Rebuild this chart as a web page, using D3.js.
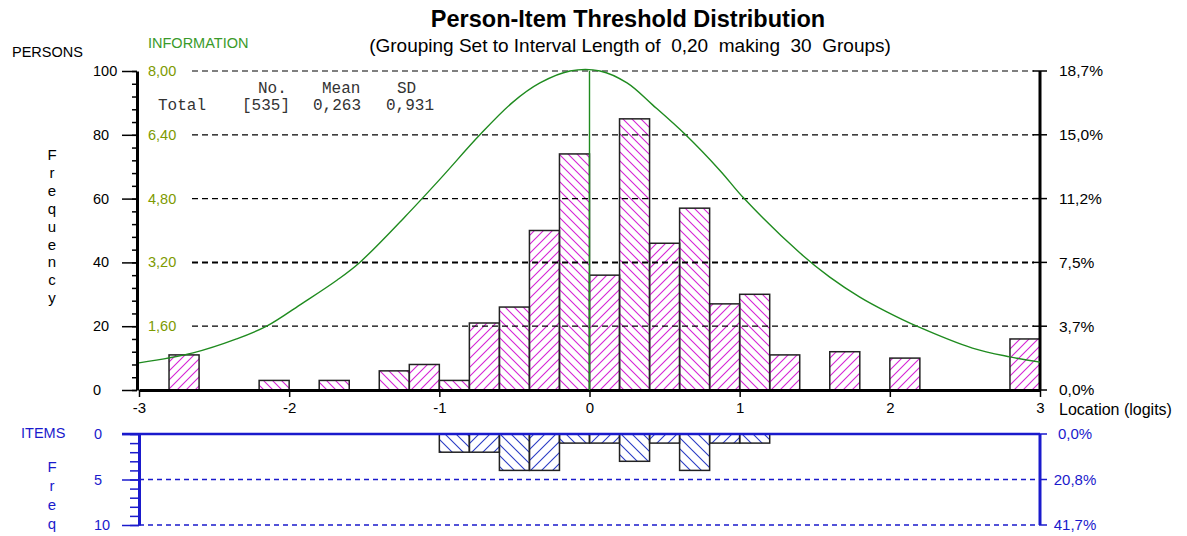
<!DOCTYPE html>
<html>
<head>
<meta charset="utf-8">
<script src="https://cdn.jsdelivr.net/npm/d3@7"></script>
<style>
  body { margin: 0; background: #fff; }
  text { font-family: "Liberation Sans", Arial, sans-serif; }
</style>
</head>
<body>
<div id="chart"></div>
<script>
// lower edge of each of the 30 groups (interval length 0,20)
var binStart = [-3.0, -2.8, -2.6, -2.4, -2.2, -2.0, -1.8, -1.6, -1.4, -1.2,
                -1.0, -0.8, -0.6, -0.4, -0.2, 0.0, 0.2, 0.4, 0.6, 0.8,
                1.0, 1.2, 1.4, 1.6, 1.8, 2.0, 2.2, 2.4, 2.6, 2.8];
var binWidth = 0.2;

// persons per group
var personCounts = [0, 11, 0, 0, 3, 0, 3, 0, 6, 8,
                    3, 21, 26, 50, 74, 36, 85, 46, 57, 27,
                    30, 11, 0, 12, 0, 10, 0, 0, 0, 16];
// item thresholds per group
var itemCounts = [0, 0, 0, 0, 0, 0, 0, 0, 0, 0,
                  2, 2, 4, 4, 1, 1, 3, 1, 4, 1,
                  1, 0, 0, 0, 0, 0, 0, 0, 0, 0];

// test information curve
var infoX = [-3.0, -2.64, -2.35, -2.15, -1.91, -1.68, -1.53, -1.23, -1.0,
             -0.73, -0.51, -0.33, -0.13, 0.07, 0.25, 0.42, 0.64, 0.87, 1.03,
             1.40, 1.60, 1.80, 1.98, 2.18, 2.55, 2.80, 3.0];
var infoY = [0.68, 0.93, 1.28, 1.60, 2.18, 2.76, 3.20, 4.34, 5.27,
             6.40, 7.22, 7.70, 8.0, 8.0, 7.70, 7.15, 6.40, 5.50, 4.80,
             3.44, 2.83, 2.33, 1.96, 1.60, 1.05, 0.83, 0.70];
var infoPeak = 0;

// summary stats
var statHeads = ["No.", "Mean", "SD"];
var statTotal = ["Total", "[535]", "0,263", "0,931"];
var personTotal = 535;
var itemTotal = 24;

// ticks
var xTicks = [-3, -2, -1, 0, 1, 2, 3];
var personTicks = [0, 20, 40, 60, 80, 100];
var infoTicks = [1.6, 3.2, 4.8, 6.4, 8.0];
var itemTicks = [0, 5, 10];

var svgWidth = 1187;
var svgHeight = 536;

var svg = d3.select("#chart")
  .append("svg")
  .attr("width", svgWidth)
  .attr("height", svgHeight);

var locale = d3.formatLocale({ decimal: ",", thousands: ".", grouping: [3], currency: ["", ""] });
var fmt2 = locale.format(".2f");
var fmt1 = locale.format(".1f");

var green = "#1f8b1f";
var infoCol = "#7d9a00";
var blue = "#1a1acc";

// scales
var xScale = d3.scaleLinear().domain([-3, 3]).range([139, 1040]);
var yScale = d3.scaleLinear().domain([0, 100]).range([390, 71]);
var infoScale = d3.scaleLinear().domain([0, 8]).range([390, 71]);
var itemScale = d3.scaleLinear().domain([0, 10]).range([434, 525]);

// hatch patterns
var defs = svg.append("defs");
function hatch(id, size, color, forward) {
  var p = defs.append("pattern")
    .attr("id", id)
    .attr("patternUnits", "userSpaceOnUse")
    .attr("width", size)
    .attr("height", size);
  var s = size;
  var d = forward
    ? `M${-s/4},${s/4} l${s/2},${-s/2} M0,${s} l${s},${-s} M${s*3/4},${s*5/4} l${s/2},${-s/2}`
    : `M${-s/4},${s*3/4} l${s/2},${s/2} M0,0 l${s},${s} M${s*3/4},${-s/4} l${s/2},${s/2}`;
  p.append("path").attr("d", d).attr("stroke", color).attr("stroke-width", 1.1).attr("fill", "none");
}
hatch("pFwd", 9, "#d523d5", true);
hatch("pBack", 9, "#d523d5", false);
hatch("iFwd", 11, "#2a3bc4", true);
hatch("iBack", 11, "#2a3bc4", false);

// titles
svg.append("text")
  .attr("x", 628).attr("y", 27)
  .attr("text-anchor", "middle")
  .style("font-size", "23.5px").style("font-weight", "bold")
  .text("Person-Item Threshold Distribution");

svg.append("text")
  .attr("x", 630).attr("y", 52)
  .attr("text-anchor", "middle")
  .style("font-size", "19px").style("white-space", "pre")
  .text("(Grouping Set to Interval Length of  0,20  making  30  Groups)");

svg.append("text").attr("x", 12).attr("y", 57).style("font-size", "14.5px").text("PERSONS");
svg.append("text").attr("x", 148).attr("y", 48).style("font-size", "14.5px").attr("fill", "#3a9a2a").text("INFORMATION");

// vertical "Frequency"
var freqLetters = "Frequency".split("");
svg.selectAll(".freqL")
  .data(freqLetters).enter().append("text")
  .attr("x", 52).attr("y", (d, i) => 160 + i * 17.9)
  .attr("text-anchor", "middle").style("font-size", "15px")
  .text(d => d);

// person bars
var personBins = binStart.map((b, i) => ({ x0: b, n: personCounts[i], i: i })).filter(d => d.n > 0);
svg.selectAll(".pbar")
  .data(personBins).enter().append("rect")
  .attr("x", d => xScale(d.x0))
  .attr("width", d => xScale(d.x0 + binWidth) - xScale(d.x0))
  .attr("y", d => yScale(d.n))
  .attr("height", d => yScale(0) - yScale(d.n))
  .attr("fill", d => d.i % 2 ? "url(#pFwd)" : "url(#pBack)")
  .attr("stroke", "#222")
  .attr("stroke-width", 1.5);

// dashed gridlines (drawn over the bars)
svg.selectAll(".grid")
  .data(personTicks.filter(d => d > 0)).enter().append("line")
  .attr("x1", 192).attr("x2", 1034)
  .attr("y1", d => yScale(d)).attr("y2", d => yScale(d))
  .attr("stroke", "#000")
  .attr("stroke-width", d => d === 40 ? 2 : 1.2)
  .attr("stroke-dasharray", "6,4");

// left persons axis
svg.append("g")
  .attr("transform", "translate(137,0)")
  .call(d3.axisLeft(yScale).tickValues(d3.range(0, 101, 4)).tickSize(5).tickSizeOuter(0).tickFormat(""))
  .call(g => g.selectAll("line").attr("stroke-width", 1.5))
  .call(g => g.select(".domain").attr("stroke-width", 3));
svg.append("g")
  .attr("transform", "translate(137,0)")
  .call(d3.axisLeft(yScale).tickValues(personTicks).tickSize(15).tickSizeOuter(0).tickFormat(""))
  .call(g => g.selectAll("line").attr("stroke-width", 1.5))
  .call(g => g.select(".domain").remove());
svg.selectAll(".plab")
  .data(personTicks).enter().append("text")
  .attr("x", 93).attr("y", d => yScale(d))
  .attr("dy", "0.35em").style("font-size", "14.5px")
  .text(d => d);

// information labels
svg.selectAll(".ilab")
  .data(infoTicks).enter().append("text")
  .attr("x", 148).attr("y", d => infoScale(d))
  .attr("dy", "0.35em").style("font-size", "14.5px")
  .attr("fill", infoCol)
  .text(d => fmt2(d));

// right percent axis
svg.append("line")
  .attr("x1", 1040).attr("x2", 1040).attr("y1", yScale(100)).attr("y2", yScale(0))
  .attr("stroke", "#000").attr("stroke-width", 3);
svg.selectAll(".rtick")
  .data(personTicks).enter().append("line")
  .attr("x1", 1033).attr("x2", 1047)
  .attr("y1", d => yScale(d)).attr("y2", d => yScale(d))
  .attr("stroke", "#000").attr("stroke-width", 1.5);
svg.selectAll(".rlab")
  .data(personTicks).enter().append("text")
  .attr("x", 1059).attr("y", d => yScale(d))
  .attr("dy", "0.35em").style("font-size", "15.5px")
  .text(d => fmt1(d / personTotal * 100) + "%");

// x axis
svg.append("g")
  .attr("transform", `translate(0,${yScale(0)})`)
  .call(d3.axisBottom(xScale).tickValues(xTicks).tickSize(7).tickSizeOuter(0).tickFormat(d => d))
  .call(g => g.select(".domain").attr("stroke-width", 3))
  .call(g => g.selectAll("line").attr("stroke-width", 1.5))
  .call(g => g.selectAll("text").style("font-size", "15px").attr("y", 12).attr("font-family", null));
svg.append("text")
  .attr("x", 1059).attr("y", 415)
  .style("font-size", "16px")
  .text("Location (logits)");

// information curve
var infoLine = d3.line()
  .x((d, i) => xScale(infoX[i]))
  .y(d => infoScale(d))
  .curve(d3.curveCatmullRom.alpha(0.5));
svg.append("path")
  .datum(infoY)
  .attr("d", infoLine)
  .attr("fill", "none")
  .attr("stroke", green)
  .attr("stroke-width", 1.4);
svg.append("line")
  .attr("x1", xScale(infoPeak)).attr("x2", xScale(infoPeak))
  .attr("y1", infoScale(8)).attr("y2", yScale(0))
  .attr("stroke", green).attr("stroke-width", 1.4);

// stats
var monoFont = "'Liberation Mono', 'Courier New', monospace";
var headX = [258, 322, 397];
svg.selectAll(".shead")
  .data(statHeads).enter().append("text")
  .attr("x", (d, i) => headX[i]).attr("y", 93)
  .style("font-family", monoFont).style("font-size", "16px")
  .attr("fill", "#333")
  .text(d => d);
var totX = [158, 242, 313, 386];
svg.selectAll(".stot")
  .data(statTotal).enter().append("text")
  .attr("x", (d, i) => totX[i]).attr("y", 110)
  .style("font-family", monoFont).style("font-size", "16px")
  .attr("fill", "#333")
  .text(d => d);

// ---- items panel ----
svg.append("text").attr("x", 21).attr("y", 433).attr("dy", "0.35em")
  .style("font-size", "14.5px").attr("fill", blue).text("ITEMS");
var freqItem = "Freq".split("");
svg.selectAll(".fqL")
  .data(freqItem).enter().append("text")
  .attr("x", 52).attr("y", (d, i) => 467 + i * 19).attr("dy", "0.35em")
  .attr("text-anchor", "middle").style("font-size", "15px").attr("fill", blue)
  .text(d => d);

var itemBins = binStart.map((b, i) => ({ x0: b, n: itemCounts[i], i: i })).filter(d => d.n > 0);
svg.selectAll(".ibar")
  .data(itemBins).enter().append("rect")
  .attr("x", d => xScale(d.x0))
  .attr("width", d => xScale(d.x0 + binWidth) - xScale(d.x0))
  .attr("y", itemScale(0))
  .attr("height", d => itemScale(d.n) - itemScale(0))
  .attr("fill", d => d.i % 2 ? "url(#iFwd)" : "url(#iBack)")
  .attr("stroke", "#222")
  .attr("stroke-width", 1.5);

svg.selectAll(".igrid")
  .data(itemTicks.filter(d => d > 0)).enter().append("line")
  .attr("x1", 139).attr("x2", 1040)
  .attr("y1", d => itemScale(d)).attr("y2", d => itemScale(d))
  .attr("stroke", blue).attr("stroke-width", 1.6)
  .attr("stroke-dasharray", "5,4");

svg.append("line")
  .attr("x1", 122).attr("x2", 1040).attr("y1", itemScale(0)).attr("y2", itemScale(0))
  .attr("stroke", blue).attr("stroke-width", 2.5);

svg.append("g")
  .attr("transform", "translate(139,0)")
  .call(d3.axisLeft(itemScale).tickValues(d3.range(0, 11, 1)).tickSize(9).tickSizeOuter(0).tickFormat(""))
  .call(g => g.selectAll("line").attr("stroke", blue).attr("stroke-width", 1.5))
  .call(g => g.select(".domain").attr("stroke", blue).attr("stroke-width", 3));
svg.append("g")
  .attr("transform", "translate(139,0)")
  .call(d3.axisLeft(itemScale).tickValues(itemTicks).tickSize(17).tickSizeOuter(0).tickFormat(""))
  .call(g => g.selectAll("line").attr("stroke", blue).attr("stroke-width", 1.5))
  .call(g => g.select(".domain").remove());
svg.selectAll(".itlab")
  .data(itemTicks).enter().append("text")
  .attr("x", 94).attr("y", d => itemScale(d))
  .attr("dy", "0.35em").style("font-size", "14.5px").attr("fill", blue)
  .text(d => d);

svg.append("line")
  .attr("x1", 1040).attr("x2", 1040).attr("y1", itemScale(0)).attr("y2", itemScale(10))
  .attr("stroke", blue).attr("stroke-width", 3);
svg.selectAll(".irtick")
  .data(itemTicks).enter().append("line")
  .attr("x1", 1040).attr("x2", 1047)
  .attr("y1", d => itemScale(d)).attr("y2", d => itemScale(d))
  .attr("stroke", blue).attr("stroke-width", 1.5);
svg.selectAll(".irlab")
  .data(itemTicks).enter().append("text")
  .attr("x", 1075).attr("y", d => itemScale(d))
  .attr("dy", "0.35em").attr("text-anchor", "middle")
  .style("font-size", "15px").attr("fill", blue)
  .text(d => fmt1(d / itemTotal * 100) + "%");
</script>
</body>
</html>
